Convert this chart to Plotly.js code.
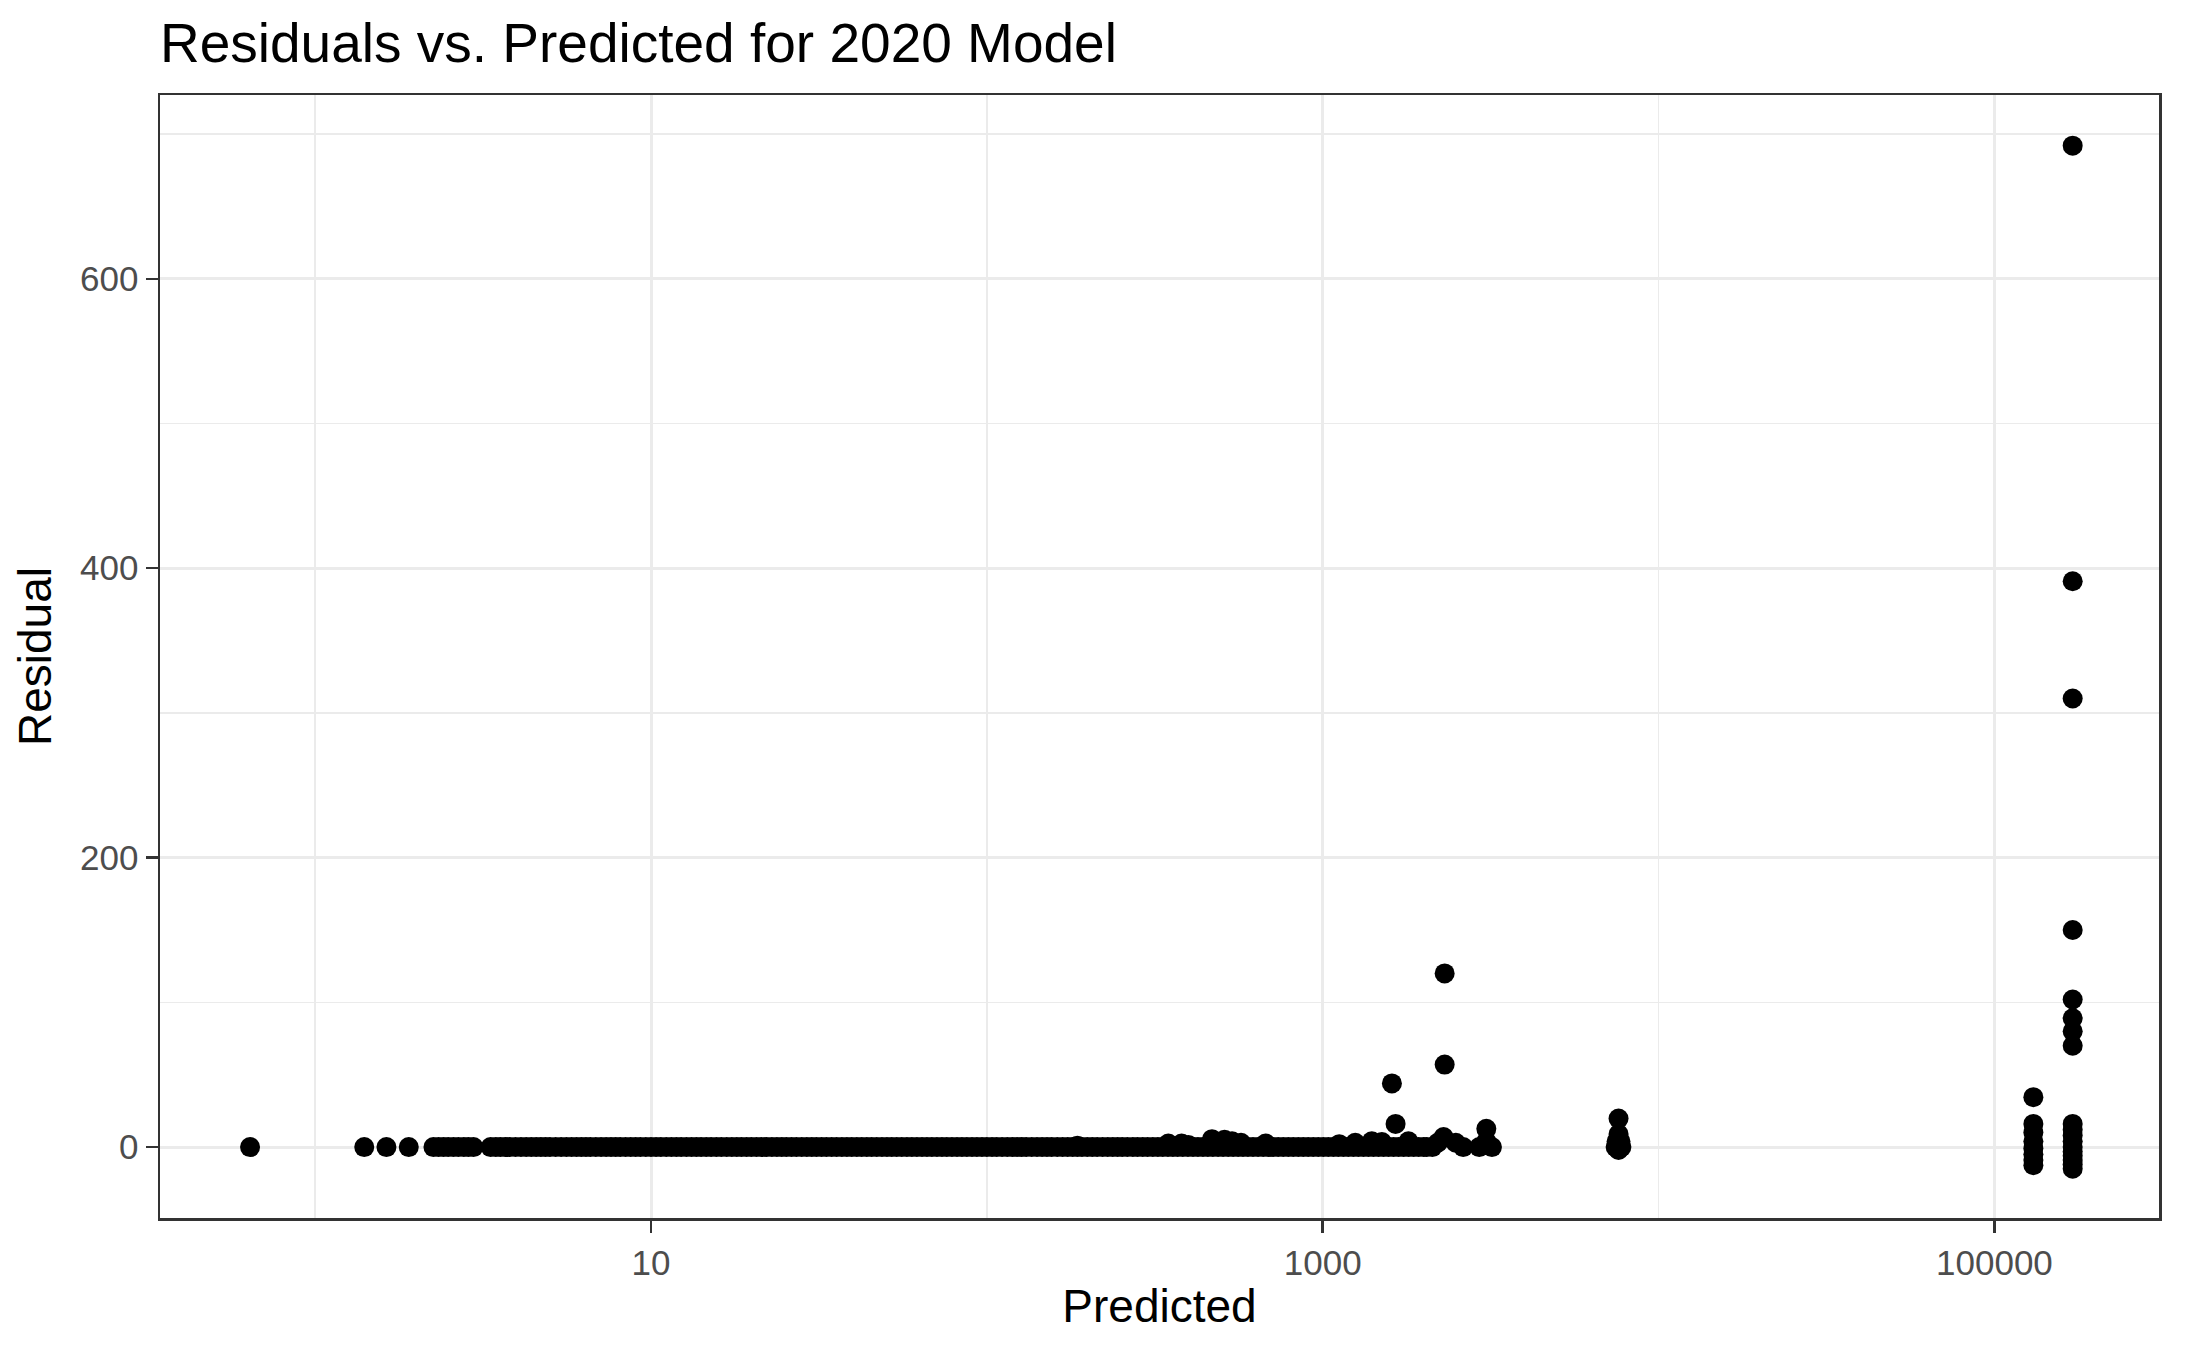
<!DOCTYPE html>
<html>
<head>
<meta charset="utf-8">
<script src="https://cdn.plot.ly/plotly-3.0.1.min.js"></script>
<style>html,body{margin:0;padding:0;background:#fff;}#chart{width:2187px;height:1351px;}</style>
</head>
<body>
<div id="chart"></div>
<script>
// Main band of predictions with residual ~0
var bandPredicted = [
  0.64, 1.40, 1.63, 1.90, 2.25, 2.41, 2.58, 2.77, 2.96, 3.33,
  3.56, 3.8, 4.1, 4.4, 4.7, 5.0, 5.4, 5.8, 6.2, 6.6, 7.1, 7.6, 8.1, 8.7, 9.3,
  10.0, 10.7, 11.5, 12.3, 13.2, 14.1, 15.1, 16.2, 17.4, 18.6, 19.9, 21.3, 22.9,
  24.5, 26.2, 28.1, 30.1, 32.2, 34.5, 37.0, 39.6, 42.4, 45.4, 48.7, 52.1, 55.8,
  59.8, 64.1, 68.6, 73.5, 78.7, 84.3, 90.3, 96.7, 103.6, 111, 119, 127, 136,
  146, 156, 168, 180, 192, 206, 221, 237, 253, 272, 291, 312, 334, 358, 383,
  411, 440, 471, 505, 541, 579, 620, 665, 712, 763, 817, 875, 937, 1004, 1076,
  1152, 1234, 1322, 1416, 1517, 1625, 1741, 1865, 1998, 2040
];
var bandResidual = [
  0, 0, 0, 0, 0, 0, 0, 0, 0, 0,
  0, 0, 0, 0, 0, 0, 0, 0, 0, 0, 0, 0, 0, 0, 0,
  0, 0, 0, 0, 0, 0, 0, 0, 0, 0, 0, 0, 0,
  0, 0, 0, 0, 0, 0, 0, 0, 0, 0, 0, 0, 0,
  0, 0, 0, 0, 0, 0, 0, 0, 0, 0, 0, 0, 0,
  0, 0, 0, 0, 0, 0, 0, 0, 0, 0, 0, 0, 0, 0, 0,
  0, 0, 0, 0, 0, 0, 0, 0, 0, 0, 0, 0, 0, 0, 0,
  0, 0, 0, 0, 0, 0, 0, 0, 0, 0
];
// More predictions inside the same band (residual ~0)
var bandPredicted2 = [
  2.33, 2.49, 2.67, 2.86, 3.45,
  3.68, 3.95, 4.25, 4.55, 4.85, 5.2, 5.6, 6.0, 6.4, 6.85, 7.35, 7.85, 8.4, 9.0,
  9.65, 10.35, 11.1, 11.9, 12.75, 13.65, 14.6, 15.65, 16.8, 18.0, 19.25, 20.6,
  22.1, 23.7, 25.3, 27.1, 29.1, 31.1, 33.3, 35.7, 38.3, 41, 43.9, 47, 50.4, 53.9,
  57.8, 61.9, 66.3, 71, 76, 81.5, 87.2, 93.4, 100, 107, 115, 123, 131, 141, 151,
  162, 174, 186, 199, 213, 229, 245, 262, 281, 301, 323, 346, 370, 397, 425, 455,
  488, 523, 560, 599, 642, 688, 737, 790, 846, 905, 970, 1039, 1113, 1192, 1277,
  1368, 1466, 1570, 1682, 1802, 1930
];
var bandResidual2 = [
  0, 0, 0, 0, 0,
  0, 0, 0, 0, 0, 0, 0, 0, 0, 0, 0, 0, 0, 0,
  0, 0, 0, 0, 0, 0, 0, 0, 0, 0, 0, 0,
  0, 0, 0, 0, 0, 0, 0, 0, 0, 0, 0, 0, 0, 0,
  0, 0, 0, 0, 0, 0, 0, 0, 0, 0, 0, 0, 0, 0, 0,
  0, 0, 0, 0, 0, 0, 0, 0, 0, 0, 0, 0, 0, 0, 0, 0,
  0, 0, 0, 0, 0, 0, 0, 0, 0, 0, 0, 0, 0, 0, 0,
  0, 0, 0, 0, 0, 0
];
// Points standing out from the band and the high-prediction clusters
var outPredicted = [
  186, 347, 380, 398, 468, 510, 537, 571, 676, 1120, 1250, 1400, 1500, 1800,
  1607, 1648, 2307, 2307,
  2120, 2200, 2290, 2490, 2620, 2925, 3190, 3070, 3070,
  7600, 7600, 7500, 7700, 7450, 7750, 7600,
  130600, 130600, 130600, 130600, 130600, 130600, 130600, 130600,
  171000, 171000, 171000, 171000, 171000, 171000, 171000, 171000, 171000,
  171000, 171000, 171000, 171000, 171000, 171000, 171000, 171000, 171000
];
var outResidual = [
  1, 2.5, 2.5, 1.5, 5.5, 5, 4, 3, 2.5, 2, 3, 4, 3.5, 4,
  44, 16, 120, 57,
  0, 3, 7, 3, 0, 0, 0, 12.6, 4,
  19.7, 9, 4, 4, 0, 0, -2,
  34.5, 16, 10, 4, -1, -5, -9, -12.5,
  692, 391, 310, 150, 102, 89, 80, 70, 16,
  12, 8, 4, 0, -3, -6, -9, -12, -15
];
var titleText = "Residuals vs. Predicted for 2020 Model";
var xTitle = "Predicted";
var yTitle = "Residual";
var xTickVals = [10, 1000, 100000];
var xTickText = ["10", "1000", "100000"];
var xMinorVals = [1, 100, 10000];
var yTickVals = [0, 200, 400, 600];
var yMinorVals = [100, 300, 500, 700];

var FONT = "Liberation Sans, Arial, Helvetica, sans-serif";
var marker = {color: "#000000", size: 20, line: {width: 0}};
var traces = [
  {type: "scatter", mode: "markers", x: bandPredicted, y: bandResidual, marker: marker, hoverinfo: "x+y"},
  {type: "scatter", mode: "markers", x: bandPredicted2, y: bandResidual2, marker: marker, hoverinfo: "x+y"},
  {type: "scatter", mode: "markers", x: outPredicted, y: outResidual, marker: marker, hoverinfo: "x+y"}
];
var layout = {
  width: 2187, height: 1351,
  margin: {l: 160, r: 28, t: 95, b: 133, pad: 0},
  paper_bgcolor: "#ffffff", plot_bgcolor: "#ffffff",
  showlegend: false,
  font: {family: FONT, color: "#000000"},
  title: {text: titleText, font: {family: FONT, size: 55, color: "#000000"},
          x: 0, xref: "paper", xanchor: "left", y: 1 - 43/1351, yref: "container", yanchor: "middle"},
  xaxis: {
    type: "log", range: [-0.462, 5.49], autorange: false,
    tickmode: "array", tickvals: xTickVals, ticktext: xTickText,
    ticks: "outside", ticklen: 12, tickwidth: 2.5, tickcolor: "#333333",
    tickfont: {family: FONT, size: 35, color: "#4D4D4D"},
    showgrid: true, gridcolor: "#EBEBEB", gridwidth: 3,
    minor: {tickmode: "array", tickvals: xMinorVals, showgrid: true, gridcolor: "#EBEBEB", gridwidth: 1.5, ticks: ""},
    showline: true, mirror: true, linecolor: "#333333", linewidth: 2.5,
    zeroline: false,
    title: {text: xTitle, font: {family: FONT, size: 46, color: "#000000"}, standoff: 10}
  },
  yaxis: {
    range: [-49, 727], autorange: false,
    tickmode: "array", tickvals: yTickVals,
    ticks: "outside", ticklen: 12, tickwidth: 2.5, tickcolor: "#333333",
    tickfont: {family: FONT, size: 35, color: "#4D4D4D"},
    showgrid: true, gridcolor: "#EBEBEB", gridwidth: 3,
    minor: {tickmode: "array", tickvals: yMinorVals, showgrid: true, gridcolor: "#EBEBEB", gridwidth: 1.5, ticks: ""},
    showline: true, mirror: true, linecolor: "#333333", linewidth: 2.5,
    zeroline: false,
    title: {text: yTitle, font: {family: FONT, size: 46, color: "#000000"}, standoff: 14}
  }
};
Plotly.newPlot("chart", traces, layout, {displayModeBar: false, staticPlot: true});
</script>
</body>
</html>
